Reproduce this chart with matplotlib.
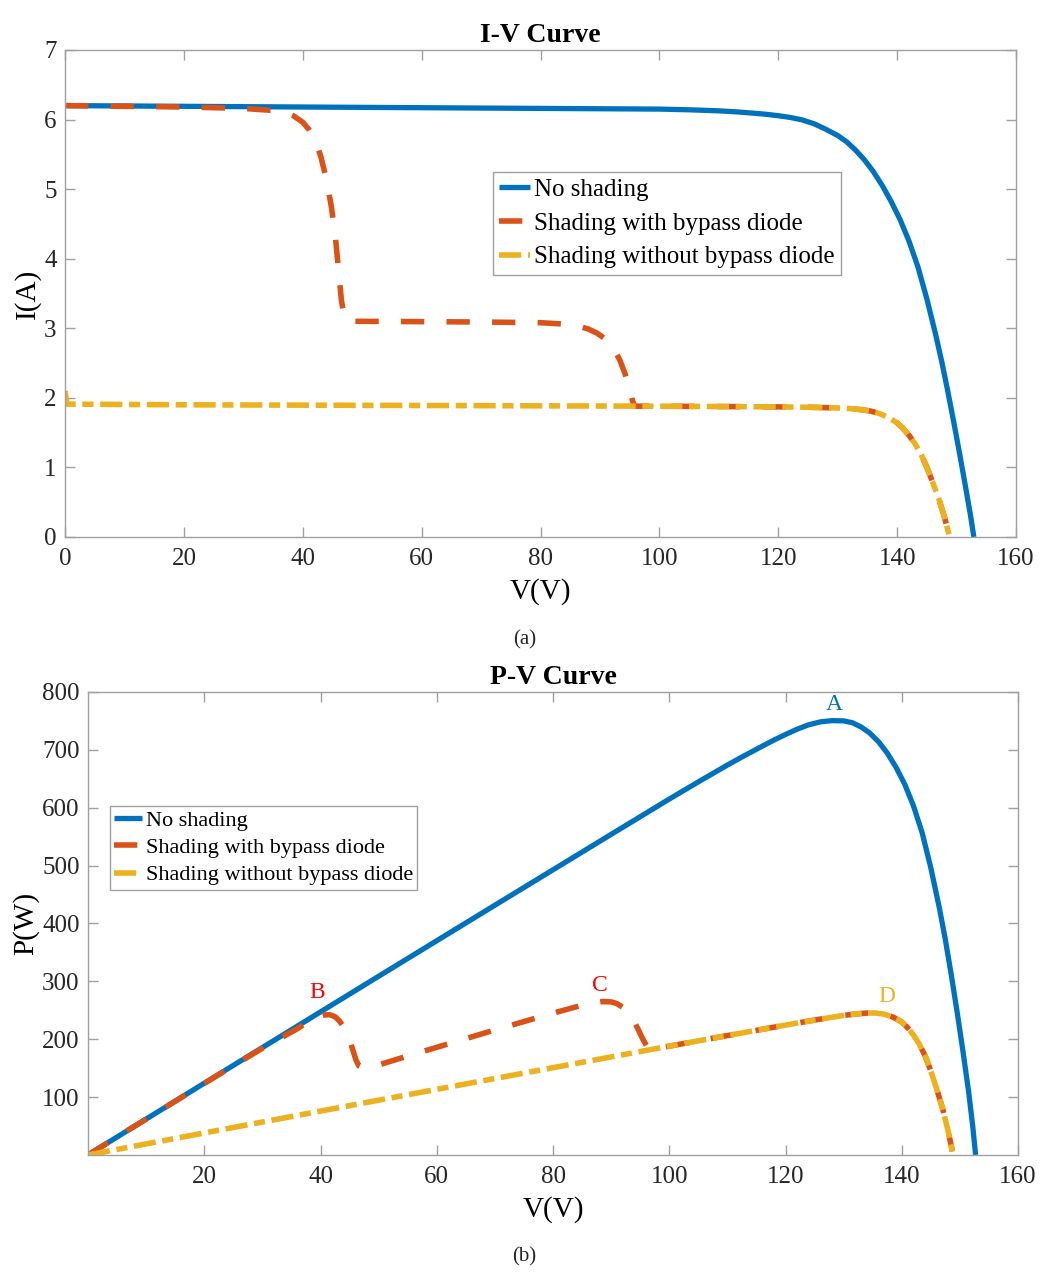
"""
I-V and P-V curves of a PV string, with and without partial shading
"""
import numpy as np
import matplotlib.pyplot as plt

# ---- I-V data ----
v_iv_none = [0, 10, 20, 30, 40, 50, 60, 70, 80, 90, 100, 105, 110, 113, 116,
             118, 120, 122, 124, 126, 128, 130, 131.5, 133, 134.5, 136, 137.5,
             139, 140.5, 142, 143.5, 145, 146.5, 147.5, 148.5, 149.5, 150.5,
             151.5, 152.3, 152.9]
i_iv_none = [6.20, 6.195, 6.19, 6.185, 6.18, 6.175, 6.17, 6.165, 6.16, 6.155,
             6.15, 6.14, 6.125, 6.11, 6.09, 6.075, 6.055, 6.03, 5.995, 5.94,
             5.86, 5.77, 5.68, 5.56, 5.42, 5.25, 5.05, 4.82, 4.56, 4.25, 3.88,
             3.42, 2.90, 2.52, 2.10, 1.66, 1.20, 0.72, 0.33, 0.0]

v_iv_bypass = [0, 10, 20, 30, 35, 37, 38.5, 40, 41, 42, 43, 44, 44.8, 45.5,
               46, 46.5, 47, 47.5, 50, 60, 70, 80, 84, 86, 88, 89.5, 91, 92.2,
               93.3, 94.2, 95, 95.5, 95.8, 100, 110, 120, 125, 130, 132, 134,
               135.5, 137, 138.5, 140, 141, 142, 143, 144, 145, 146, 147, 148,
               148.7]
i_iv_bypass = [6.20, 6.19, 6.18, 6.16, 6.13, 6.10, 6.05, 5.96, 5.86, 5.71,
               5.48, 5.13, 4.75, 4.30, 3.85, 3.40, 3.15, 3.10, 3.10, 3.095,
               3.09, 3.08, 3.06, 3.04, 2.99, 2.93, 2.84, 2.72, 2.55, 2.35, 2.12,
               1.95, 1.88, 1.88, 1.875, 1.87, 1.865, 1.855, 1.845, 1.83, 1.81,
               1.775, 1.72, 1.64, 1.56, 1.46, 1.34, 1.19, 1.00, 0.78, 0.55,
               0.27, 0.04]

v_iv_nobypass = [0, 0.3, 10, 20, 40, 60, 80, 100, 110, 120, 125, 130, 132,
                 134, 135.5, 137, 138.5, 140, 141, 142, 143, 144, 145, 146,
                 147, 148, 148.7]
i_iv_nobypass = [2.10, 1.91, 1.905, 1.90, 1.895, 1.89, 1.885, 1.88, 1.875,
                 1.87, 1.865, 1.855, 1.845, 1.83, 1.81, 1.775, 1.72, 1.64,
                 1.56, 1.46, 1.34, 1.19, 1.00, 0.78, 0.55, 0.27, 0.04]

# ---- P-V data ----
v_pv_none = [0, 10, 20, 30, 40, 50, 60, 70, 80, 90, 100, 105, 110, 113, 116,
             118, 120, 122, 124, 126, 128, 130, 131.5, 133, 134.5, 136, 137.5,
             139, 140.5, 142, 143.5, 145, 146.5, 147.5, 148.5, 149.5, 150.5,
             151.5, 152.2, 152.7]
p_pv_none = [0, 62, 124, 185.6, 247.2, 308.8, 370.2, 431.6, 492.8, 554, 615,
             644.7, 673.8, 690.4, 706.4, 716.9, 726.6, 735.7, 743.4, 748.4,
             750.5, 750.1, 746.9, 739.5, 729, 714, 694.4, 670, 640.7, 603.5,
             556.8, 495.9, 424.9, 371.7, 311.9, 248.2, 180.6, 109, 50, 0]

v_pv_bypass = [0, 10, 20, 30, 36, 38, 39.5, 40.5, 41.5, 42.5, 43.3, 44, 44.6,
               45.1, 45.6, 46.1, 46.6, 47.2, 48, 49, 55, 60, 70, 80, 84, 86.5,
               88.5, 90, 91, 92, 93, 93.8, 94.6, 95.3, 95.9, 96.5, 100, 110,
               120, 125, 130, 132, 134, 135.5, 137, 138.5, 140, 141, 142, 143,
               144, 145, 146, 147, 148, 148.7]
p_pv_bypass = [0, 62, 123.6, 184.5, 218, 231, 238.5, 241.5, 242.5, 239, 231,
               221, 209, 196, 180, 164, 154, 151.5, 151.5, 152.5, 171, 186,
               216, 245, 256, 262.5, 265, 264.5, 261.5, 255, 245, 233, 218,
               203, 192, 182, 188, 206.3, 224.4, 233.1, 241.2, 243.5, 245.2,
               245.3, 243.2, 238.2, 229.6, 220, 207.3, 191.6, 171.4, 145,
               113.9, 80.9, 40, 6]

v_pv_nobypass = [0, 10, 20, 40, 60, 80, 100, 110, 120, 125, 130, 132, 134,
                 135.5, 137, 138.5, 140, 141, 142, 143, 144, 145, 146, 147,
                 148, 148.7]
p_pv_nobypass = [0, 19.05, 38, 75.8, 113.4, 150.8, 188, 206.3, 224.4, 233.1,
                 241.2, 243.5, 245.2, 245.3, 243.2, 238.2, 229.6, 220, 207.3,
                 191.6, 171.4, 145, 113.9, 80.9, 40, 6]

labels = ['No shading', 'Shading with bypass diode',
          'Shading without bypass diode']
point_names = ['A', 'B', 'C', 'D']
point_v = [128.4, 39.5, 88.1, 137.4]
point_p = [779, 280, 293.6, 274]

BLUE = '#0072BD'
ORANGE = '#D95319'
YELLOW = '#EDB120'
point_colors = [BLUE, '#FF0000', '#FF0000', YELLOW]

plt.rcParams['font.family'] = ['Liberation Serif', 'DejaVu Serif']

fig = plt.figure(figsize=(10.49, 12.81), dpi=100)
ax1 = fig.add_axes([0.0620, 0.5808, 0.9066, 0.3802])
ax2 = fig.add_axes([0.0839, 0.0984, 0.8866, 0.3614])


def draw_curves(ax, v1, y1, v2, y2, v3, y3):
    ax.plot(v1, y1, color=BLUE, lw=3.8, solid_capstyle='butt',
            solid_joinstyle='round', label=labels[0])
    ax.plot(v2, y2, color=ORANGE, lw=4, dashes=(4.2, 4.0),
            dash_capstyle='butt', dash_joinstyle='round', label=labels[1])
    ax.plot(v3, y3, color=YELLOW, lw=4, dashes=(4.0, 1.2, 2.0, 1.2),
            dash_capstyle='butt', dash_joinstyle='round', label=labels[2])


def style_axes(ax):
    for sp in ax.spines.values():
        sp.set_color('#a0a0a0')
        sp.set_linewidth(1.0)
    ax.tick_params(direction='in', length=7, width=1, color='#a0a0a0',
                   top=True, right=True, labelsize=18, labelcolor='#262626')
    ax.tick_params(axis='x', pad=8)
    ax.tick_params(axis='y', pad=6)


draw_curves(ax1, v_iv_none, i_iv_none, v_iv_bypass, i_iv_bypass,
            v_iv_nobypass, i_iv_nobypass)
ax1.set_xlim(0, 160)
ax1.set_ylim(0, 7)
ax1.set_xticks(np.arange(0, 161, 20))
ax1.set_yticks(np.arange(0, 8, 1))
style_axes(ax1)
ax1.set_title('I-V Curve', fontsize=20, fontweight='bold', pad=6)
ax1.set_xlabel('V(V)', fontsize=21, labelpad=6)
ax1.set_ylabel('I(A)', fontsize=21, labelpad=2)
ax1.legend(loc='upper left', bbox_to_anchor=(0.45, 0.749), fontsize=18,
           frameon=True, fancybox=False, framealpha=1, edgecolor='#a0a0a0',
           borderpad=0.25, labelspacing=0.45, handletextpad=0.15,
           handlelength=1.25, borderaxespad=0)

draw_curves(ax2, v_pv_none, p_pv_none, v_pv_bypass, p_pv_bypass,
            v_pv_nobypass, p_pv_nobypass)
ax2.set_xlim(0, 160)
ax2.set_ylim(0, 800)
ax2.set_xticks(np.arange(20, 161, 20))
ax2.set_yticks(np.arange(100, 801, 100))
style_axes(ax2)
ax2.set_title('P-V Curve', fontsize=20, fontweight='bold', pad=6)
ax2.set_xlabel('V(V)', fontsize=21, labelpad=6)
ax2.set_ylabel('P(W)', fontsize=21, labelpad=2)
ax2.legend(loc='upper left', bbox_to_anchor=(0.0237, 0.754), fontsize=16,
           frameon=True, fancybox=False, framealpha=1, edgecolor='#a0a0a0',
           borderpad=0.2, labelspacing=0.3, handletextpad=0.15,
           handlelength=1.25, borderaxespad=0)

for name, v, p, c in zip(point_names, point_v, point_p, point_colors):
    ax2.text(v, p, name, color=c, fontsize=17, ha='center', va='center')

fig.text(0.5, 1 - 640 / 1281, '(a)', fontsize=15, ha='center', va='center',
         color='#262626')
fig.text(0.5, 1 - 1257 / 1281, '(b)', fontsize=15, ha='center', va='center',
         color='#262626')

fig.savefig('out.png', dpi=100)
